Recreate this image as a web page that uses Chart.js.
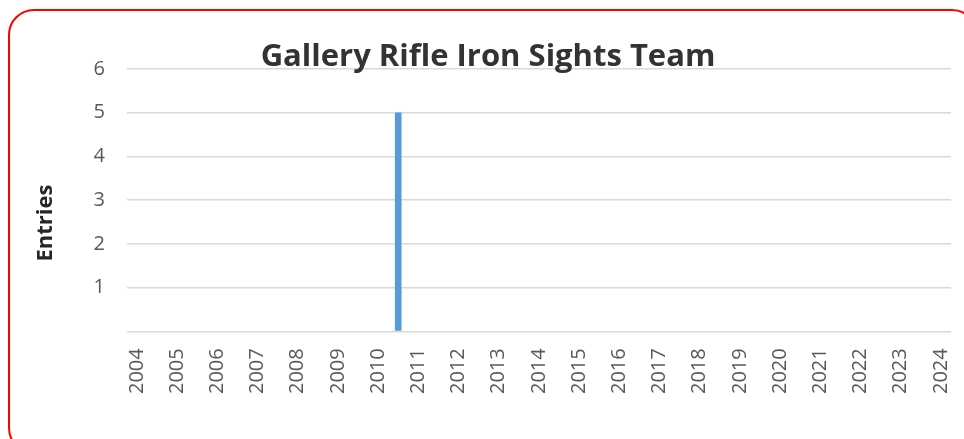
<!DOCTYPE html>
<html>
<head>
<meta charset="utf-8">
<script src="https://cdn.jsdelivr.net/npm/chart.js@4/dist/chart.umd.min.js"></script>
<style>
    body { margin: 0; background: #ffffff; }
    #wrap { position: relative; width: 964px; height: 439px; overflow: hidden; }
    #frame {
        position: absolute; left: 8px; top: 9px; width: 970px; height: 445px;
        border: 2px solid #ff0000; border-radius: 26px; box-sizing: border-box;
    }
    #myChart { position: absolute; left: 0; top: 0; }
</style>
</head>
<body>
<div id="wrap">
    <div id="frame"></div>
    <canvas id="myChart" width="974" height="439"></canvas>
</div>
<script>
// Tick labels on the x axis (years)
const years = [2004, 2005, 2006, 2007, 2008, 2009, 2010, 2011, 2012, 2013, 2014,
    2015, 2016, 2017, 2018, 2019, 2020, 2021, 2022, 2023, 2024];
// Position of each bar on the year axis (the bar sits between 2010 and 2011)
const entryYears = [2010.5];
// Number of entries for each bar
const entries = [5];
// Tick values on the y axis
const yTicks = [0, 1, 2, 3, 4, 5, 6];

document.addEventListener('DOMContentLoaded', () => {
    const ctx = document.getElementById('myChart').getContext('2d');
    new Chart(ctx, {
        type: 'bar',
        data: {
            datasets: [{
                label: 'Entries',
                data: entryYears.map((x, i) => ({ x: x, y: entries[i] })),
                backgroundColor: '#5b9bd5',
                borderWidth: 0,
                barThickness: 6
            }]
        },
        options: {
            responsive: false,
            animation: false,
            layout: {
                padding: { left: 6, right: 4, top: 0, bottom: 36 }
            },
            scales: {
                x: {
                    type: 'linear',
                    offset: false,
                    min: 2003.75,
                    max: 2024.25,
                    afterBuildTicks: axis => { axis.ticks = years.map(v => ({ value: v })); },
                    ticks: {
                        minRotation: 90,
                        maxRotation: 90,
                        autoSkip: false,
                        padding: 9,
                        color: '#595959',
                        font: { family: 'Open Sans', size: 20 },
                        callback: value => String(value)
                    },
                    grid: { display: false },
                    border: { display: false }
                },
                y: {
                    min: 0,
                    max: 6,
                    afterBuildTicks: axis => { axis.ticks = yTicks.map(v => ({ value: v })); },
                    ticks: {
                        padding: 22,
                        color: '#595959',
                        font: { family: 'Open Sans', size: 20 },
                        callback: value => value === 0 ? '' : String(value)
                    },
                    grid: {
                        color: '#d9d9d9',
                        lineWidth: 1.5,
                        drawTicks: false
                    },
                    border: { display: false },
                    title: {
                        display: true,
                        // trailing spaces push the word a little below the axis middle, as in the original
                        text: 'Entries\u00a0\u00a0\u00a0\u00a0\u00a0\u00a0\u00a0\u00a0',
                        color: '#262626',
                        font: { family: 'Open Sans', size: 22, weight: 'bold' },
                        padding: { top: 27, bottom: 12 }
                    }
                }
            },
            plugins: {
                legend: { display: false },
                tooltip: { enabled: false },
                title: {
                    display: true,
                    text: 'Gallery Rifle Iron Sights Team',
                    color: '#333333',
                    font: { family: 'Open Sans', size: 31, weight: 'bold', lineHeight: 1 },
                    padding: { top: 42, bottom: -4 }
                }
            }
        }
    });
});
</script>
</body>
</html>
